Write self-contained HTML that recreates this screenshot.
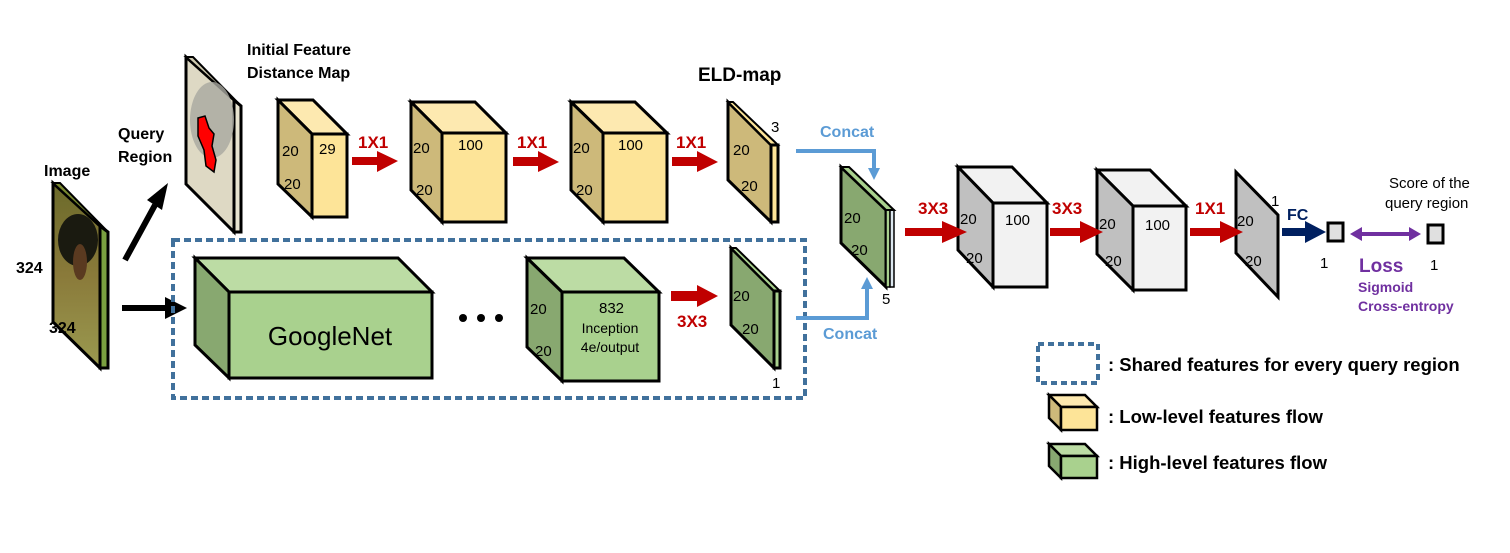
<!DOCTYPE html>
<html><head><meta charset="utf-8"><style>
html,body{margin:0;padding:0;background:#fff;}
svg{display:block;font-family:"Liberation Sans","DejaVu Sans",sans-serif;}
.t{font-size:16px;fill:#000;}
.b{font-weight:bold;}
.r{fill:#c00000;font-size:17px;}
</style></head><body>
<svg width="1510" height="553" viewBox="0 0 1510 553" xmlns="http://www.w3.org/2000/svg">
<defs>
<linearGradient id="img" x1="0" y1="0" x2="0" y2="1">
<stop offset="0" stop-color="#6b6a2a"/><stop offset="0.5" stop-color="#8a7a3a"/><stop offset="1" stop-color="#9a9a50"/>
</linearGradient>
</defs>
<g stroke="#000" stroke-width="3" stroke-linejoin="miter">
<polygon points="53,183 100,226 100,368 53,322" fill="url(#img)"/>
<polygon points="53,183 60,183 108,232 100,226" fill="#7a8a30" stroke-width="2"/>
<polygon points="100,226 108,232 108,368 100,368" fill="#7aa040"/>
</g>
<ellipse cx="78" cy="240" rx="20" ry="26" fill="#1a1a10"/>
<ellipse cx="80" cy="262" rx="7" ry="18" fill="#5a3a20"/>
<g stroke="#000" stroke-width="3">
<polygon points="186,57 234,100 234,232 186,184" fill="#ded9c4"/>
<polygon points="234,100 241,106 241,232 234,232" fill="#e8e4d0"/>
<polygon points="186,57 193,57 241,106 234,100" fill="#cfcab0" stroke-width="2"/>
</g>
<ellipse cx="212" cy="120" rx="22" ry="38" fill="#a8a8a0" opacity="0.8"/>
<path d="M198,118 L205,116 L209,128 L214,134 L212,146 L216,160 L214,172 L206,166 L204,150 L198,136 Z" fill="#ff0000" stroke="#000" stroke-width="1.5"/>

<line x1="125" y1="260" x2="155" y2="205" stroke="#000" stroke-width="6"/>
<polygon points="168,183 147,200 162,210" fill="#000"/>
<line x1="122" y1="308" x2="168" y2="308" stroke="#000" stroke-width="6"/>
<polygon points="187,308 165,297 165,319" fill="#000"/>

<g stroke="#000" stroke-width="3" stroke-linejoin="miter">
<polygon points="278,100 313,100 347,134 312,134" fill="#fde9b0"/>
<polygon points="278,100 312,134 312,217 278,184" fill="#cdb97a"/>
<rect x="312" y="134" width="35" height="83" fill="#fde498"/>
<polygon points="411,102 475,102 506,133 442,133" fill="#fde9b0"/>
<polygon points="411,102 442,133 442,222 411,190" fill="#cdb97a"/>
<rect x="442" y="133" width="64" height="89" fill="#fde498"/>
<polygon points="571,102 635,102 667,133 603,133" fill="#fde9b0"/>
<polygon points="571,102 603,133 603,222 571,190" fill="#cdb97a"/>
<rect x="603" y="133" width="64" height="89" fill="#fde498"/>
<polygon points="728,102 771,145 771,222 728,180" fill="#cdb97a"/>
<polygon points="728,102 733,102 778,145 771,145" fill="#fde498" stroke-width="2"/>
<rect x="771" y="145" width="7" height="77" fill="#fde498"/>
<polygon points="195,258 398,258 432,292 229,292" fill="#bcdca4"/>
<polygon points="195,258 229,292 229,378 195,345" fill="#88a870"/>
<rect x="229" y="292" width="203" height="86" fill="#a9d18e"/>
<polygon points="527,258 624,258 659,292 562,292" fill="#bcdca4"/>
<polygon points="527,258 562,292 562,381 527,347" fill="#88a870"/>
<rect x="562" y="292" width="97" height="89" fill="#a9d18e"/>
<polygon points="731,248 774,291 774,368 731,325" fill="#88a870"/>
<polygon points="731,248 736,248 780,291 774,291" fill="#a9d18e" stroke-width="2"/>
<rect x="774" y="291" width="6" height="77" fill="#a9d18e"/>
<polygon points="841,167 886,210 886,287 841,243" fill="#88a870"/>
<polygon points="886,210 890,210 890,287 886,287" fill="#a9d18e" stroke-width="1.5"/>
<polygon points="890,210 894,210 894,287 890,287" fill="#dde8f0" stroke-width="1.5"/>
<polygon points="841,167 849,167 894,210 886,210" fill="#a9d18e" stroke-width="2"/>
<polygon points="958,167 1012,167 1047,203 993,203" fill="#f2f2f2"/>
<polygon points="958,167 993,203 993,287 958,250" fill="#c0c0c0"/>
<rect x="993" y="203" width="54" height="84" fill="#f2f2f2"/>
<polygon points="1097,170 1150,170 1186,206 1133,206" fill="#f2f2f2"/>
<polygon points="1097,170 1133,206 1133,290 1097,254" fill="#c0c0c0"/>
<rect x="1133" y="206" width="53" height="84" fill="#f2f2f2"/>
<polygon points="1236,172 1278,215 1278,297 1236,253" fill="#c0c0c0"/>
<rect x="1328" y="223" width="15" height="18" fill="#e0e0e0"/>
<rect x="1428" y="225" width="15" height="18" fill="#e0e0e0"/>
<polygon points="1049,395 1085,395 1097,407 1061,407" fill="#fde9b0" stroke-width="2.5"/>
<polygon points="1049,395 1061,407 1061,430 1049,418" fill="#cdb97a" stroke-width="2.5"/>
<rect x="1061" y="407" width="36" height="23" fill="#fde498" stroke-width="2.5"/>
<polygon points="1049,444 1085,444 1097,456 1061,456" fill="#bcdca4" stroke-width="2.5"/>
<polygon points="1049,444 1061,456 1061,478 1049,466" fill="#88a870" stroke-width="2.5"/>
<rect x="1061" y="456" width="36" height="22" fill="#a9d18e" stroke-width="2.5"/>
</g>

<rect x="173" y="240" width="632" height="158" fill="none" stroke="#41719c" stroke-width="4" stroke-dasharray="7,4"/>
<rect x="1038" y="344" width="60" height="39" fill="none" stroke="#41719c" stroke-width="4" stroke-dasharray="6,4"/>

<g fill="#c00000">
<polygon points="352,157 377,157 377,151 398,161 377,172 377,165 352,165"/>
<polygon points="513,157 538,157 538,151 559,162 538,172 538,166 513,166"/>
<polygon points="672,157 697,157 697,151 718,162 697,172 697,166 672,166"/>
<polygon points="671,291 697,291 697,285 718,296 697,307 697,301 671,301"/>
<polygon points="905,228 942,228 942,221 967,232 942,243 942,236 905,236"/>
<polygon points="1050,228 1080,228 1080,221 1103,232 1080,243 1080,236 1050,236"/>
<polygon points="1190,228 1220,228 1220,221 1243,232 1220,243 1220,236 1190,236"/>
</g>
<polygon points="1282,228 1305,228 1305,221 1326,232 1305,243 1305,236 1282,236" fill="#002060"/>
<line x1="1358" y1="234" x2="1413" y2="234" stroke="#7030a0" stroke-width="4"/>
<polygon points="1350,234 1362,227 1362,241" fill="#7030a0"/>
<polygon points="1421,234 1409,227 1409,241" fill="#7030a0"/>
<g stroke="#5b9bd5" stroke-width="4" fill="none">
<polyline points="796,151 874,151 874,170"/>
<polyline points="796,318 867,318 867,287"/>
</g>
<polygon points="868,168 880,168 874,180" fill="#5b9bd5"/>
<polygon points="861,289 873,289 867,277" fill="#5b9bd5"/>

<circle cx="463" cy="318" r="4"/><circle cx="481" cy="318" r="4"/><circle cx="499" cy="318" r="4"/>

<g class="t b">
<text x="44" y="176">Image</text>
<text x="16" y="273">324</text>
<text x="49" y="333">324</text>
<text x="118" y="139">Query</text>
<text x="118" y="162">Region</text>
<text x="247" y="55">Initial Feature</text>
<text x="247" y="78">Distance Map</text>
<text x="698" y="81" style="font-size:19px">ELD-map</text>
</g>
<g class="t" style="font-size:15px">
<text x="282" y="156">20</text><text x="284" y="189">20</text><text x="319" y="154">29</text>
<text x="413" y="153">20</text><text x="416" y="195">20</text><text x="458" y="150">100</text>
<text x="573" y="153">20</text><text x="576" y="195">20</text><text x="618" y="150">100</text>
<text x="733" y="155">20</text><text x="741" y="191">20</text><text x="771" y="132">3</text>
<text x="530" y="314">20</text><text x="535" y="356">20</text>
<text x="599" y="313">832</text>
<text x="733" y="301">20</text><text x="742" y="334">20</text><text x="772" y="388">1</text>
<text x="844" y="223">20</text><text x="851" y="255">20</text><text x="882" y="304">5</text>
<text x="960" y="224">20</text><text x="966" y="263">20</text><text x="1005" y="225">100</text>
<text x="1099" y="229">20</text><text x="1105" y="266">20</text><text x="1145" y="230">100</text>
<text x="1237" y="226">20</text><text x="1245" y="266">20</text><text x="1271" y="206">1</text>
<text x="1320" y="268">1</text><text x="1430" y="270">1</text>
</g>
<g class="t" style="font-size:14px">
<text x="610" y="333" text-anchor="middle">Inception</text>
<text x="610" y="352" text-anchor="middle">4e/output</text>
</g>
<text x="330" y="345" text-anchor="middle" style="font-size:26px;fill:#000">GoogleNet</text>
<g class="r b">
<text x="358" y="148">1X1</text><text x="517" y="148">1X1</text><text x="676" y="148">1X1</text>
<text x="677" y="327">3X3</text>
<text x="918" y="214">3X3</text><text x="1052" y="214">3X3</text><text x="1195" y="214">1X1</text>
</g>
<g class="b" style="font-size:16px;fill:#5b9bd5">
<text x="820" y="137">Concat</text><text x="823" y="339">Concat</text>
</g>
<text x="1287" y="220" class="b" style="font-size:16px;fill:#002060">FC</text>
<g class="b" style="fill:#7030a0">
<text x="1359" y="272" style="font-size:19px">Loss</text>
<text x="1358" y="292" style="font-size:14px">Sigmoid</text>
<text x="1358" y="311" style="font-size:14px">Cross-entropy</text>
</g>
<g class="t" style="font-size:15px">
<text x="1389" y="188">Score of the</text>
<text x="1385" y="208">query region</text>
</g>
<g class="t b" style="font-size:18.5px">
<text x="1108" y="371">: Shared features for every query region</text>
<text x="1108" y="423">: Low-level features flow</text>
<text x="1108" y="469">: High-level features flow</text>
</g>
</svg>
</body></html>
